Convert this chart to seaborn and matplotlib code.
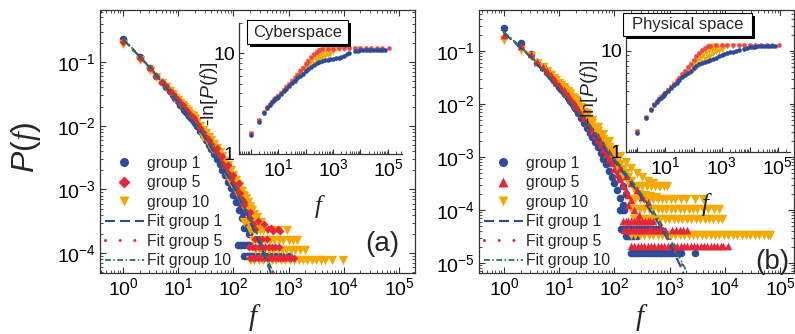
import numpy as np
import matplotlib
matplotlib.use("Agg")
import matplotlib.pyplot as plt
import seaborn as sns
from matplotlib.lines import Line2D
from matplotlib.patches import Rectangle
from matplotlib.ticker import (LogLocator, FixedLocator, NullFormatter,
                               FuncFormatter, LogFormatterMathtext)

# ---------------- data (log10 values) ----------------
LF_BASE = [0, .30, .48, .60, .70, .78, .85, .90, .95, 1.0,
           1.04, 1.08, 1.11, 1.15, 1.18, 1.20, 1.23, 1.26, 1.28, 1.30,
           1.34, 1.40, 1.45, 1.51, 1.56, 1.60, 1.65, 1.70, 1.75, 1.80,
           1.85, 1.90, 1.95, 2.0, 2.05, 2.10, 2.15]

# panel (a) main
A1_LF = LF_BASE + [2.20]
A1_LP = [-.64, -.92, -1.10, -1.22, -1.32, -1.39, -1.46, -1.52, -1.57, -1.62,
         -1.67, -1.71, -1.75, -1.79, -1.82, -1.85, -1.88, -1.91, -1.93, -1.96,
         -2.01, -2.08, -2.15, -2.23, -2.30, -2.37, -2.45, -2.52, -2.60, -2.70,
         -2.78, -2.88, -2.98, -3.08, -3.20, -3.33, -3.45, -3.60]
A1_XLF = [1.62, 1.68, 1.72, 1.78, 1.83, 1.88, 1.93, 1.97, 2.02, 2.07, 2.12, 2.17, 2.22, 2.25, 2.28]
A1_XLP = [-2.3, -2.4, -2.45, -2.55, -2.62, -2.72, -2.8, -2.9, -3.0, -3.12, -3.22, -3.35, -3.5, -3.6, -3.7]
A1_BAND_LP = [-3.87, -4.05]
A1_BAND_LF = [[2.08, 2.12, 2.16, 2.2, 2.24, 2.28],
              [2.2, 2.24, 2.28, 2.32, 2.36, 2.4, 2.44, 2.48, 2.52, 2.56, 2.6, 2.65, 2.7, 2.76, 2.82, 2.88, 3.0]]

A5_LF = LF_BASE + [2.20, 2.25, 2.30, 2.35, 2.40]
A5_LP = [-.68, -.94, -1.10, -1.22, -1.31, -1.38, -1.45, -1.50, -1.55, -1.60,
         -1.64, -1.68, -1.72, -1.76, -1.79, -1.82, -1.85, -1.87, -1.90, -1.92,
         -1.97, -2.04, -2.10, -2.17, -2.23, -2.29, -2.36, -2.43, -2.50, -2.58,
         -2.66, -2.74, -2.82, -2.90, -2.98, -3.06, -3.15, -3.25, -3.35, -3.45, -3.55, -3.62]
A5_XLF = [1.7, 1.8, 1.9, 2.0, 2.1, 2.12, 2.2, 2.3, 2.45, 2.55, 2.62, 2.68, 2.72, 2.8, 2.85]
A5_XLP = [-2.35, -2.48, -2.62, -2.78, -2.9, -3.05, -3.2, -3.35, -3.5, -3.55, -3.62, -3.6, -3.66, -3.62, -3.66]
A5_BAND_LP = [-3.78, -3.9, -4.07]
A5_BAND_LF = [[2.4, 2.46, 2.52, 2.6],
              [2.28, 2.34, 2.4, 2.46, 2.52, 2.58, 2.64, 2.7, 2.76, 2.82],
              [2.3, 2.35, 2.4, 2.45, 2.5, 2.55, 2.6, 2.65, 2.7, 2.75, 2.8, 2.85, 2.9, 2.95, 3.0, 3.05, 3.1]]

A10_LF = LF_BASE + [2.20, 2.25, 2.30]
A10_LP = [-.72, -.97, -1.12, -1.24, -1.33, -1.40, -1.46, -1.51, -1.56, -1.60,
          -1.64, -1.68, -1.71, -1.74, -1.77, -1.80, -1.83, -1.85, -1.88, -1.90,
          -1.94, -2.00, -2.06, -2.12, -2.18, -2.23, -2.29, -2.35, -2.42, -2.48,
          -2.55, -2.62, -2.70, -2.78, -2.86, -2.94, -3.02, -3.10, -3.20, -3.30]
A10_XLF = [1.45, 1.55, 1.62, 1.7, 1.75, 1.82, 1.88, 1.92, 1.98, 2.02,
           2.06, 2.1, 2.14, 2.18, 2.22, 2.26, 2.3, 2.34, 2.38, 2.42,
           1.9, 1.96, 2.04, 2.12, 2.2, 2.28, 2.36, 2.44]
A10_XLP = [-2.17, -2.28, -2.36, -2.45, -2.52, -2.6, -2.66, -2.72, -2.8, -2.86,
           -2.92, -2.97, -3.03, -3.08, -3.13, -3.2, -3.26, -3.32, -3.38, -3.43,
           -2.8, -2.9, -3.02, -3.15, -3.28, -3.4, -3.52, -3.6]
A10_BAND_LP = [-3.51, -3.64, -3.79, -3.95, -4.11]
A10_BAND_LF = [[2.2, 2.26, 2.32, 2.38, 2.44, 2.5],
               [2.3, 2.36, 2.42, 2.48, 2.54, 2.6, 2.7, 2.8, 2.97],
               [2.35, 2.42, 2.5, 2.58, 2.66, 2.74, 2.82, 2.9, 3.0, 3.08, 3.15],
               [2.4, 2.48, 2.56, 2.64, 2.72, 2.8, 2.88, 2.96, 3.04, 3.12, 3.2, 3.3],
               [2.3, 2.38, 2.46, 2.54, 2.62, 2.7, 2.78, 2.86, 2.94, 3.02, 3.1, 3.18,
                3.26, 3.34, 3.42, 3.5, 3.58, 3.66, 3.78, 3.99]]

A_FIT1_LF = [0, 0.5, 1.0, 1.5, 2.0, 2.3, 2.5, 2.68]
A_FIT1_LP = [-0.64, -1.10, -1.63, -2.20, -2.95, -3.50, -3.90, -4.31]
A_FIT5_LF = [0, 0.5, 1.0, 1.5, 2.0, 2.3, 2.5, 2.7, 2.8]
A_FIT5_LP = [-0.65, -1.10, -1.62, -2.18, -2.92, -3.46, -3.86, -4.27, -4.45]
A_FIT10_LF = [0, 0.5, 1.0, 1.5, 2.0, 2.3, 2.5, 2.72]
A_FIT10_LP = [-0.63, -1.09, -1.61, -2.17, -2.90, -3.44, -3.84, -4.31]

# panel (b) main
B1_LF = LF_BASE
B1_LP = [-.57, -.85, -1.05, -1.20, -1.31, -1.40, -1.48, -1.55, -1.61, -1.67,
         -1.72, -1.77, -1.82, -1.87, -1.91, -1.95, -1.99, -2.03, -2.07, -2.10,
         -2.17, -2.27, -2.36, -2.46, -2.55, -2.63, -2.72, -2.82, -2.92, -3.03,
         -3.14, -3.26, -3.38, -3.50, -3.63, -3.77, -3.90]
B1_XLF = [1.5, 1.58, 1.66, 1.72, 1.8, 1.86, 1.92, 1.98, 2.04, 2.1, 2.16, 2.2]
B1_XLP = [-2.35, -2.45, -2.58, -2.66, -2.8, -2.9, -3.0, -3.12, -3.25, -3.4, -3.55, -3.7]
B1_BAND_LP = [-4.0, -4.35, -4.5, -4.82]
B1_BAND_LF = [[2.1, 2.14, 2.18],
              [2.12, 2.16, 2.2, 2.24, 2.28, 2.32, 2.36, 2.4, 2.44, 2.48, 2.52, 2.56, 2.6, 2.65, 2.7, 2.75, 2.8],
              [2.2, 2.24, 2.28, 2.32, 2.36, 2.4],
              [2.3, 2.35, 2.4, 2.45, 2.5, 2.55, 2.6, 2.65, 2.7, 2.75, 2.8, 2.85, 2.9, 2.95, 3.0,
               3.05, 3.1, 3.15, 3.2, 3.46]]

B5_LF = LF_BASE + [2.20, 2.25, 2.30]
B5_LP = [-.70, -.90, -1.06, -1.20, -1.30, -1.38, -1.46, -1.52, -1.58, -1.64,
         -1.69, -1.74, -1.78, -1.83, -1.87, -1.90, -1.94, -1.98, -2.01, -2.04,
         -2.10, -2.19, -2.27, -2.36, -2.44, -2.51, -2.59, -2.67, -2.76, -2.85,
         -2.94, -3.03, -3.12, -3.22, -3.32, -3.42, -3.52, -3.62, -3.72, -3.82]
B5_XLF = [1.7, 1.8, 1.9, 2.0, 2.1, 2.2, 2.3, 2.4, 2.5, 2.6, 2.25, 2.35, 2.45]
B5_XLP = [-2.6, -2.75, -2.9, -3.05, -3.2, -3.35, -3.5, -3.62, -3.75, -3.85, -3.9, -4.0, -4.1]
B5_BAND_LP = [-4.2, -4.38, -4.68]
B5_BAND_LF = [[2.15, 2.2, 2.25, 2.3, 2.35, 2.4, 2.45, 2.5, 2.55, 2.6, 2.65, 2.7],
              [2.17, 2.22, 2.27, 2.32, 2.37, 2.42, 2.47, 2.52, 2.57, 2.62, 2.67, 2.72, 2.77,
               2.82, 2.87, 2.92, 3.05, 3.12, 3.18, 3.24, 3.31],
              [2.3, 2.36, 2.42, 2.48, 2.54, 2.6, 2.66, 2.72, 2.78, 2.84, 2.9, 2.96, 3.02, 3.08,
               3.14, 3.2, 3.26, 3.32, 3.38, 3.44, 3.5, 3.56, 3.62, 3.68, 3.74, 3.8, 3.86, 3.92,
               3.97, 4.06]]

B10_LF = LF_BASE + [2.20, 2.25, 2.30]
B10_LP = [-.79, -.98, -1.10, -1.22, -1.31, -1.38, -1.45, -1.50, -1.55, -1.60,
          -1.64, -1.68, -1.72, -1.76, -1.79, -1.82, -1.86, -1.89, -1.92, -1.95,
          -2.00, -2.08, -2.15, -2.23, -2.30, -2.36, -2.43, -2.50, -2.58, -2.66,
          -2.74, -2.82, -2.90, -2.98, -3.06, -3.14, -3.22, -3.30, -3.38, -3.46]
B10_XLF = [1.3, 1.4, 1.5, 1.6, 1.7, 1.8, 1.9, 2.0, 2.1, 2.2, 2.3, 2.4, 2.5, 2.6, 2.7, 2.8,
           1.85, 1.95, 2.05, 2.15, 2.25, 2.35, 2.45, 2.55, 2.65, 2.75]
B10_XLP = [-1.93, -2.05, -2.17, -2.3, -2.43, -2.56, -2.7, -2.84, -2.98, -3.1, -3.2, -3.3,
           -3.38, -3.45, -3.5, -3.55,
           -2.9, -3.05, -3.2, -3.35, -3.48, -3.6, -3.7, -3.72, -3.74, -3.76]
B10_BAND_LP = [-3.55, -3.8, -3.98, -4.17, -4.47]
B10_BAND_LF = [[2.35, 2.42, 2.5, 2.58, 2.66, 2.74, 2.82, 2.9, 2.95],
               [2.3, 2.38, 2.46, 2.54, 2.62, 2.7, 2.78, 2.86, 2.94, 3.02, 3.1, 3.2, 3.3, 3.45, 3.6],
               [2.3, 2.38, 2.46, 2.54, 2.62, 2.7, 2.78, 2.86, 2.94, 3.02, 3.1, 3.18, 3.26, 3.34,
                3.42, 3.5, 3.6, 3.7, 3.8, 3.9],
               [2.35, 2.43, 2.51, 2.59, 2.67, 2.75, 2.83, 2.91, 2.99, 3.07, 3.15, 3.23, 3.31,
                3.39, 3.47, 3.55, 3.63, 3.71, 3.79, 3.87, 3.94],
               [2.3, 2.38, 2.46, 2.54, 2.62, 2.7, 2.78, 2.86, 2.94, 3.02, 3.1, 3.18, 3.26, 3.34,
                3.42, 3.5, 3.58, 3.66, 3.74, 3.82, 3.9, 3.98, 4.06, 4.14, 4.22, 4.3, 4.38, 4.46,
                4.54, 4.62, 4.7, 4.78, 4.82]]

B_FIT1_LF = [0, 0.5, 1.0, 1.5, 2.0, 2.4, 2.77, 3.0, 3.25]
B_FIT1_LP = [-0.66, -1.13, -1.74, -2.40, -3.08, -3.63, -4.20, -4.62, -5.19]
B_FIT5_LF = [0, 0.5, 1.0, 1.5, 2.0, 2.4, 2.77, 3.0, 3.30]
B_FIT5_LP = [-0.65, -1.12, -1.72, -2.38, -3.05, -3.60, -4.17, -4.58, -5.19]
B_FIT10_LF = [0, 0.5, 1.0, 1.5, 2.0, 2.4, 2.77, 3.0, 3.30]
B_FIT10_LP = [-0.64, -1.11, -1.71, -2.36, -3.03, -3.57, -4.13, -4.53, -5.15]

# insets: -ln[P(f)] versus f
INS_LF1 = [0, .3, .48, .6, .7, .78, .85, .9, .95, 1.0,
           1.1, 1.2, 1.3, 1.4, 1.5, 1.6, 1.7, 1.8, 1.9, 2.0, 2.1, 2.2, 2.3, 2.4, 2.5, 2.6,
           2.7, 2.8, 2.9, 3.0, 3.1, 3.2, 3.3, 3.4, 3.5, 3.6,
           3.8, 3.9, 4.0, 4.1, 4.2, 4.3, 4.4, 4.5, 4.6, 4.7, 4.8, 4.9]
INS_LF5 = [0, .3, .48, .6, .7, .78, .85, .9, .95, 1.0,
           1.1, 1.2, 1.3, 1.4, 1.5, 1.6, 1.7, 1.8, 1.9, 2.0, 2.1, 2.2, 2.3, 2.4, 2.5, 2.6,
           2.8, 3.0, 3.2, 3.4, 3.6, 3.8, 4.0, 4.2, 4.4, 4.6, 4.8, 5.05]
INS_LF10 = [0, .3, .48, .6, .7, .78, .85, .9, .95, 1.0,
            1.1, 1.2, 1.3, 1.4, 1.5, 1.6, 1.7, 1.8, 1.9, 2.0, 2.1, 2.2, 2.3, 2.4, 2.5, 2.6, 2.7, 2.8,
            3.0, 3.2, 3.4, 3.6, 3.8, 4.0,
            1.65, 1.75, 1.85, 1.95, 2.05, 2.15, 2.25, 2.35, 2.45, 2.55, 2.65, 2.75, 2.85, 2.95, 3.1,
            1.9, 2.0, 2.1, 2.2, 2.3, 2.4, 2.5, 2.6, 2.7, 2.8, 2.9, 3.0]

IA1_Y = [1.55, 2.1, 2.55, 2.85, 3.05, 3.25, 3.4, 3.5, 3.6, 3.72,
         3.95, 4.2, 4.45, 4.75, 5.05, 5.35, 5.65, 5.95, 6.25, 6.6, 6.95, 7.3, 7.65, 7.95, 8.2, 8.4,
         8.55, 8.65, 8.75, 8.85, 8.9, 9.0, 9.2, 9.45, 9.75, 10.05,
         10.45, 10.6, 10.7, 10.75, 10.8, 10.8, 10.8, 10.8, 10.8, 10.8, 10.8, 10.8]
IA5_Y = [1.62, 2.16, 2.6, 2.9, 3.12, 3.3, 3.45, 3.56, 3.67, 3.78,
         4.05, 4.33, 4.63, 4.95, 5.3, 5.7, 6.15, 6.65, 7.2, 7.8, 8.45, 9.1, 9.75, 10.3, 10.75, 11.0,
         11.1, 11.15, 11.2, 11.2, 11.2, 11.2, 11.2, 11.2, 11.2, 11.2, 11.25, 11.3]
IA10_Y = [1.58, 2.12, 2.55, 2.85, 3.08, 3.27, 3.42, 3.52, 3.63, 3.75,
          4.0, 4.28, 4.58, 4.9, 5.25, 5.65, 6.1, 6.6, 7.15, 7.75, 8.4, 9.05, 9.7, 10.25, 10.7, 10.9, 10.95, 11.0,
          11.0, 11.0, 11.0, 11.0, 11.0, 11.0,
          5.75, 6.15, 6.6, 7.05, 7.55, 8.05, 8.55, 9.05, 9.5, 9.9, 10.25, 10.5, 10.7, 10.85, 10.95,
          6.3, 6.7, 7.1, 7.5, 7.9, 8.3, 8.7, 9.05, 9.4, 9.7, 9.95, 10.2]

IB1_Y = [1.53, 2.15, 2.6, 2.9, 3.12, 3.3, 3.45, 3.55, 3.65, 3.78,
         4.02, 4.28, 4.55, 4.85, 5.15, 5.45, 5.75, 6.05, 6.35, 6.7, 7.05, 7.35, 7.6, 7.8, 7.95, 8.1,
         8.3, 8.55, 8.8, 9.05, 9.3, 9.5, 9.65, 9.8, 9.95, 10.15,
         10.5, 10.65, 10.8, 10.9, 10.95, 11.0, 11.0, 11.0, 11.0, 11.0, 11.0, 11.0]
IB5_Y = [1.62, 2.22, 2.66, 2.95, 3.17, 3.35, 3.5, 3.61, 3.72, 3.83,
         4.1, 4.4, 4.72, 5.06, 5.43, 5.85, 6.32, 6.85, 7.45, 8.1, 8.8, 9.5, 10.2, 10.75, 11.1, 11.25,
         11.3, 11.3, 11.3, 11.3, 11.3, 11.3, 11.3, 11.3, 11.3, 11.3, 11.3, 11.35]
IB10_Y = [1.58, 2.18, 2.62, 2.92, 3.13, 3.32, 3.47, 3.58, 3.69, 3.8,
          4.06, 4.35, 4.66, 5.0, 5.36, 5.76, 6.22, 6.74, 7.32, 7.95, 8.62, 9.3, 9.95, 10.5, 10.9, 11.05, 11.1, 11.1,
          11.1, 11.1, 11.1, 11.05, 11.05, 11.05,
          5.7, 6.1, 6.55, 7.0, 7.5, 8.0, 8.5, 9.0, 9.45, 9.85, 10.2, 10.5, 10.7, 10.85, 10.95,
          6.2, 6.6, 7.0, 7.4, 7.8, 8.2, 8.6, 8.95, 9.3, 9.6, 9.9, 10.15]

LABELS = ["group 1", "group 5", "group 10", "Fit group 1", "Fit group 5", "Fit group 10"]

# ---------------- style ----------------
BLUE = "#2c4b9b"
RED = "#e8263a"
ORANGE = "#f3a900"
GREEN = "#1f7a50"
W, H = 795, 334

sns.set_style("ticks")
plt.rcParams["font.family"] = ["Liberation Sans", "DejaVu Sans"]
plt.rcParams.update({
    "mathtext.fontset": "custom",
    "mathtext.rm": "Liberation Sans",
    "mathtext.it": "Liberation Sans:italic",
    "mathtext.bf": "Liberation Sans:bold",
    "mathtext.sf": "Liberation Serif:italic",
    "axes.unicode_minus": False,
    "axes.edgecolor": "#333333",
    "axes.linewidth": 0.9,
    "xtick.color": "#333333",
    "ytick.color": "#333333",
    "xtick.labelcolor": "black",
    "ytick.labelcolor": "black",
})


def points(lf, lp, xlf, xlp, band_lp, band_lf):
    x = list(lf) + list(xlf)
    y = list(lp) + list(xlp)
    assert len(lf) == len(lp) and len(xlf) == len(xlp)
    for level, fl in zip(band_lp, band_lf, strict=True):
        x += list(fl)
        y += [level] * len(fl)
    return 10 ** np.array(x, float), 10 ** np.array(y, float)


def fig_rect(fig, x0, y0, x1, y1, **kw):
    r = Rectangle((x0 / W, 1 - y1 / H), (x1 - x0) / W, (y1 - y0) / H,
                  transform=fig.transFigure, **kw)
    fig.add_artist(r)


def ftext(fig, x, y, s, **kw):
    fig.text(x / W, 1 - y / H, s, ha="center", va="center", **kw)


def setup_main(ax, xl, yl, yexp):
    ax.set_xscale("log")
    ax.set_yscale("log")
    ax.set_xlim(10 ** xl[0], 10 ** xl[1])
    ax.set_ylim(10 ** yl[0], 10 ** yl[1])
    ax.xaxis.set_major_locator(FixedLocator([10.0 ** k for k in range(0, 6)]))
    ax.yaxis.set_major_locator(FixedLocator([10.0 ** k for k in yexp]))
    for a in (ax.xaxis, ax.yaxis):
        a.set_minor_locator(LogLocator(base=10, subs=np.arange(2, 10), numticks=60))
        a.set_major_formatter(LogFormatterMathtext())
        a.set_minor_formatter(NullFormatter())
    ax.tick_params(which="both", direction="in", top=True, right=True, labelsize=14)
    ax.tick_params(which="major", length=4.5, width=0.8, pad=3)
    ax.tick_params(which="minor", length=2.3, width=0.6)
    ax.set_xlabel("")
    ax.set_ylabel("")


def odd_fmt(v, pos):
    k = int(round(np.log10(v)))
    return r"$\mathdefault{10^{%d}}$" % k if k % 2 == 1 else ""


def setup_inset(ax, xl, yl):
    ax.set_xscale("log")
    ax.set_yscale("log")
    ax.set_xlim(10 ** xl[0], 10 ** xl[1])
    ax.set_ylim(yl[0], yl[1])
    ax.xaxis.set_major_locator(FixedLocator([10.0 ** k for k in range(0, 6)]))
    ax.xaxis.set_major_formatter(FuncFormatter(odd_fmt))
    ax.xaxis.set_minor_locator(LogLocator(base=10, subs=np.arange(2, 10), numticks=60))
    ax.xaxis.set_minor_formatter(NullFormatter())
    ax.yaxis.set_major_locator(FixedLocator([1, 10]))
    ax.yaxis.set_major_formatter(FuncFormatter(lambda v, p: "%d" % round(v)))
    ax.yaxis.set_minor_locator(LogLocator(base=10, subs=np.arange(2, 10), numticks=60))
    ax.yaxis.set_minor_formatter(NullFormatter())
    for s in ("top", "right"):
        ax.spines[s].set_visible(False)
    ax.tick_params(which="both", direction="in", top=False, right=False, labelsize=14)
    ax.tick_params(which="major", length=3.5, width=0.8, pad=3)
    ax.tick_params(which="minor", length=2.0, width=0.6)
    ax.set_facecolor("white")
    ax.set_xlabel("")
    ax.set_ylabel("")


def draw_main(ax, g1, g5, g10, fits, red_marker):
    sns.scatterplot(x=g1[0], y=g1[1], ax=ax, marker="o", s=30, color=BLUE,
                    linewidth=0, zorder=3, legend=False)
    sns.scatterplot(x=g10[0], y=g10[1], ax=ax, marker="v", s=45, color=ORANGE,
                    linewidth=0, zorder=3, legend=False)
    sns.scatterplot(x=g5[0], y=g5[1], ax=ax, marker=red_marker,
                    s=16 if red_marker == "D" else 30, color=RED,
                    linewidth=0, zorder=4, legend=False)
    styles = [(BLUE, 1.5, (0, (4.8, 2.4)), "butt"),
              (RED, 2.2, (0, (0.01, 4.8)), "round"),
              (GREEN, 1.3, (0, (3.2, 1.4, 0.8, 1.4)), "butt")]
    for (fx, fy), (c, lw, ls, cap) in zip(fits, styles):
        sns.lineplot(x=10 ** np.array(fx), y=10 ** np.array(fy), ax=ax, color=c,
                     linewidth=lw, linestyle=ls, sort=False, estimator=None,
                     legend=False, zorder=5, dash_capstyle=cap)
    handles = [
        Line2D([], [], ls="none", marker="o", ms=6.5, color=BLUE, mec="none"),
        Line2D([], [], ls="none", marker=red_marker, ms=6.0 if red_marker == "D" else 7,
               color=RED, mec="none"),
        Line2D([], [], ls="none", marker="v", ms=7, color=ORANGE, mec="none"),
        Line2D([], [], color=BLUE, lw=1.5, ls=(0, (4.8, 2.4))),
        Line2D([], [], color=RED, lw=2.2, ls=(0, (0.01, 4.8)), dash_capstyle="round"),
        Line2D([], [], color=GREEN, lw=1.3, ls=(0, (3.2, 1.4, 0.8, 1.4))),
    ]
    ax.legend(handles, LABELS, loc="lower left", bbox_to_anchor=(0, 0), frameon=False,
              fontsize=11.3, handlelength=2.5, handletextpad=0.2, labelspacing=0.29,
              borderpad=0.2, borderaxespad=0.1)


def draw_inset(ax, y1, y5, y10):
    sns.scatterplot(x=10 ** np.array(INS_LF10), y=y10, ax=ax, marker="v", s=16,
                    color=ORANGE, linewidth=0, legend=False, zorder=3)
    sns.scatterplot(x=10 ** np.array(INS_LF5), y=y5, ax=ax, marker="o", s=11,
                    color="#ef4454", linewidth=0, legend=False, zorder=4)
    sns.scatterplot(x=10 ** np.array(INS_LF1), y=y1, ax=ax, marker="o", s=11,
                    color=BLUE, linewidth=0, legend=False, zorder=5)


fig = plt.figure(figsize=(W / 100, H / 100), dpi=100)
ax_a = fig.add_axes([100 / W, 61 / H, 315 / W, 263 / H])
ax_b = fig.add_axes([479 / W, 61 / H, 315 / W, 263 / H])

draw_main(ax_a,
          points(A1_LF, A1_LP, A1_XLF, A1_XLP, A1_BAND_LP, A1_BAND_LF),
          points(A5_LF, A5_LP, A5_XLF, A5_XLP, A5_BAND_LP, A5_BAND_LF),
          points(A10_LF, A10_LP, A10_XLF, A10_XLP, A10_BAND_LP, A10_BAND_LF),
          [(A_FIT1_LF, A_FIT1_LP), (A_FIT5_LF, A_FIT5_LP), (A_FIT10_LF, A_FIT10_LP)], "D")
setup_main(ax_a, (-0.417, 5.29), (-4.312, -0.184), range(-4, 0))

draw_main(ax_b,
          points(B1_LF, B1_LP, B1_XLF, B1_XLP, B1_BAND_LP, B1_BAND_LF),
          points(B5_LF, B5_LP, B5_XLF, B5_XLP, B5_BAND_LP, B5_BAND_LF),
          points(B10_LF, B10_LP, B10_XLF, B10_XLP, B10_BAND_LP, B10_BAND_LF),
          [(B_FIT1_LF, B_FIT1_LP), (B_FIT5_LF, B_FIT5_LP), (B_FIT10_LF, B_FIT10_LP)], "^")
setup_main(ax_b, (-0.453, 5.25), (-5.189, -0.226), range(-5, 0))

ins_a = fig.add_axes([239 / W, (H - 154) / H, 163 / W, 131 / H])
draw_inset(ins_a, IA1_Y, IA5_Y, IA10_Y)
setup_inset(ins_a, (-0.42, 5.51), (1, 20))

ins_b = fig.add_axes([626 / W, (H - 152) / H, 164 / W, 136 / H])
draw_inset(ins_b, IB1_Y, IB5_Y, IB10_Y)
setup_inset(ins_b, (-0.40, 5.43), (1, 22))

# labels
ftext(fig, 26, 147, r"$\mathit{P}$($\mathsf{f}$)", fontsize=23, rotation=90)
ftext(fig, 253, 318, "f", fontsize=21, family="Liberation Serif", style="italic")
ftext(fig, 640, 318, "f", fontsize=21, family="Liberation Serif", style="italic")
ftext(fig, 318, 207, "f", fontsize=18, family="Liberation Serif", style="italic")
ftext(fig, 705, 205, "f", fontsize=18, family="Liberation Serif", style="italic")
ftext(fig, 209, 94, r"-ln[$\mathit{P}$($\mathsf{f}$)]", fontsize=14, rotation=90)
ftext(fig, 589, 92, r"-ln[$\mathit{P}$($\mathsf{f}$)]", fontsize=14, rotation=90)
ftext(fig, 382, 244, "(a)", fontsize=20)
ftext(fig, 772, 262, "(b)", fontsize=20)

# text boxes with shadow
fig_rect(fig, 250, 23, 351, 47, facecolor="black", edgecolor="none", zorder=5)
fig_rect(fig, 247, 20, 348, 44, facecolor="white", edgecolor="black", linewidth=0.8, zorder=6)
ftext(fig, 297.5, 32, "Cyberspace", fontsize=12, zorder=7)
fig_rect(fig, 626, 16, 755, 39, facecolor="black", edgecolor="none", zorder=5)
fig_rect(fig, 623, 13, 752, 36, facecolor="white", edgecolor="black", linewidth=0.8, zorder=6)
ftext(fig, 687.5, 24.5, "Physical space", fontsize=12, zorder=7)

fig.savefig("out.png", dpi=100)
